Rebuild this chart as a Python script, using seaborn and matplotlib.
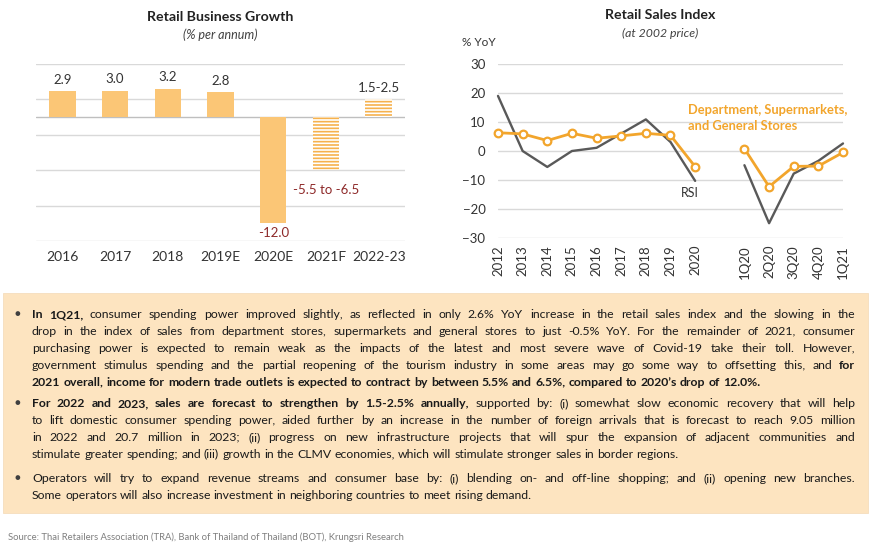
import numpy as np
import pandas as pd
import matplotlib
matplotlib.use("Agg")
import matplotlib.pyplot as plt
from matplotlib.patches import Rectangle
import seaborn as sns

# ---- data ----
BAR_CATS = ["2016", "2017", "2018", "2019E", "2020E", "2021F", "2022-23"]
BAR_VALS = [2.9, 3.0, 3.2, 2.8, -12.0, -6.0, 2.0]
BAR_LABELS = ["2.9", "3.0", "3.2", "2.8", "-12.0", "-5.5 to -6.5", "1.5-2.5"]
BAR_HATCHED = [False, False, False, False, False, True, True]

RSI_CATS = ["2012", "2013", "2014", "2015", "2016", "2017", "2018", "2019", "2020",
            "", "1Q20", "2Q20", "3Q20", "4Q20", "1Q21"]
RSI_VALS = [19.0, 0.0, -5.5, 0.0, 1.1, 6.0, 10.9, 3.1, -10.3,
            np.nan, -4.9, -24.9, -7.8, -3.4, 2.6]
DEPT_VALS = [6.3, 5.9, 3.6, 6.1, 4.4, 5.2, 6.1, 5.4, -5.4,
             np.nan, 0.8, -12.3, -5.3, -5.2, -0.5]
RSI_SEGMENT = [0] * 9 + [9] + [1] * 5

PARAGRAPHS = [
    [
        [("In 1Q21,", True), ("consumer spending power improved slightly, as reflected in only 2.6% YoY increase in the retail sales index and the slowing in the", False)],
        [("drop in the index of sales from department stores, supermarkets and general stores to just -0.5% YoY. For the remainder of 2021, consumer", False)],
        [("purchasing power is expected to remain weak as the impacts of the latest and most severe wave of Covid-19 take their toll. However,", False)],
        [("government stimulus spending and the partial reopening of the tourism industry in some areas may go some way to offsetting this, and", False), ("for", True)],
        [("2021 overall, income for modern trade outlets is expected to contract by between 5.5% and 6.5%, compared to 2020\u2019s drop of 12.0%.", True)],
    ],
    [
        [("For 2022 and 2023, sales are forecast to strengthen by 1.5-2.5% annually,", True), ("supported by: (i) somewhat slow economic recovery that will help", False)],
        [("to lift domestic consumer spending power, aided further by an increase in the number of foreign arrivals that is forecast to reach 9.05 million", False)],
        [("in 2022 and 20.7 million in 2023; (ii) progress on new infrastructure projects that will spur the expansion of adjacent communities and", False)],
        [("stimulate greater spending; and (iii) growth in the CLMV economies, which will stimulate stronger sales in border regions.", False)],
    ],
    [
        [("Operators will try to expand revenue streams and consumer base by: (i) blending on- and off-line shopping; and (ii) opening new branches.", False)],
        [("Some operators will also increase investment in neighboring countries to meet rising demand.", False)],
    ],
]
SOURCE = "Source: Thai Retailers Association (TRA), Bank of Thailand of Thailand (BOT), Krungsri Research"

# ---- style ----
BAR_COLOR = "#FBC676"
HATCH_COLOR = "#F6B24E"
ORANGE = "#F2A52C"
GRAY_LINE = "#595959"
GRID = "#D9D9D9"
DARK = "#333333"
RED = "#8E2A2A"
BOX = "#FDE4C0"

sns.set_style("white")
plt.rcParams["font.family"] = ["Lato", "DejaVu Sans"]
plt.rcParams["hatch.linewidth"] = 1.2

W, H = 870, 549
fig = plt.figure(figsize=(W / 100, H / 100), dpi=100)


def fx(px):
    return px / W


def fy(py):
    return 1 - py / H


# =========================
# LEFT: Retail Business Growth
# =========================
ax1 = fig.add_axes([fx(36), fy(241), fx(405 - 36), (241 - 64) / H])
bars = pd.DataFrame({"cat": BAR_CATS, "val": BAR_VALS})
sns.barplot(data=bars, x="cat", y="val", color=BAR_COLOR, saturation=1,
            width=0.5, ax=ax1)
for patch, hatched in zip(ax1.patches, BAR_HATCHED):
    patch.set_linewidth(0)
    if hatched:
        patch.set_facecolor("white")
        patch.set_edgecolor(HATCH_COLOR)
        patch.set_hatch("-----")

ax1.set_xlim(-0.5, 6.5)
ax1.set_ylim(-14, 6)
ax1.set_yticks([-14, -10, -6, -2, 2, 6])
ax1.yaxis.grid(True, color=GRID, lw=1)
ax1.axhline(0, color="#BFBFBF", lw=1, zorder=0.5)
ax1.set_axisbelow(True)
ax1.set_yticklabels([])
ax1.tick_params(axis="y", length=0)
ax1.tick_params(axis="x", length=0, pad=7, labelsize=10, labelcolor=DARK)
ax1.set_xlabel("")
ax1.set_ylabel("")
sns.despine(ax=ax1, left=True, bottom=True)

for i, (v, lab) in enumerate(zip(BAR_VALS, BAR_LABELS)):
    if v >= 0:
        ax1.annotate(lab, (i, v), xytext=(0, 4), textcoords="offset points",
                     ha="center", va="bottom", fontsize=9.5, color=DARK)
    else:
        off = -3 if not BAR_HATCHED[i] else -10
        ax1.annotate(lab, (i, v), xytext=(0, off), textcoords="offset points",
                     ha="center", va="top", fontsize=9.5, color=RED)

fig.text(fx(220), fy(17), "Retail Business Growth", ha="center", va="center",
         fontsize=10.2, fontweight="bold", color="#222222")
fig.text(fx(220), fy(35), "(% per annum)", ha="center", va="center",
         fontsize=9, fontstyle="italic", color="#404040")

# =========================
# RIGHT: Retail Sales Index
# =========================
ax2 = fig.add_axes([fx(498), fy(238), fx(843 - 498), (238 - 64) / H])
rsi = pd.DataFrame({"pos": range(len(RSI_CATS)), "rsi": RSI_VALS,
                    "dept": DEPT_VALS, "seg": RSI_SEGMENT})
rsi = rsi.dropna()
sns.lineplot(data=rsi, x="pos", y="rsi", units="seg", estimator=None,
             color=GRAY_LINE, lw=1.7, ax=ax2, clip_on=False, zorder=3)
sns.lineplot(data=rsi, x="pos", y="dept", units="seg", estimator=None,
             color=ORANGE, lw=2.0, marker="o", markersize=5.5,
             markerfacecolor="white", markeredgecolor=ORANGE, markeredgewidth=1.6,
             ax=ax2, clip_on=False, zorder=4)

ax2.set_xlim(0, len(RSI_CATS) - 1)
ax2.set_ylim(-30, 30)
ax2.set_yticks(range(-30, 31, 10))
ax2.set_xticks(range(len(RSI_CATS)))
ax2.set_xticklabels(RSI_CATS, rotation=90)
ax2.yaxis.grid(True, color=GRID, lw=1)
ax2.set_axisbelow(True)
ax2.tick_params(axis="x", length=0, pad=5, labelsize=9.5, labelcolor=DARK)
ax2.tick_params(axis="y", length=0, pad=9, labelsize=9.5, labelcolor=DARK)
ax2.set_xlabel("")
ax2.set_ylabel("")
sns.despine(ax=ax2, left=True, bottom=True)

ax2.text(7.8, -14.5, "RSI", ha="center", va="center", fontsize=9, color=DARK)
ax2.text(7.72, 11.3, "Department, Supermarkets,\nand General Stores", ha="left",
         va="center", fontsize=9.3, fontweight="bold", color=ORANGE, linespacing=1.35)

fig.text(fx(479), fy(43), "% YoY", ha="center", va="center", fontsize=8.5, color=DARK)
fig.text(fx(660), fy(15), "Retail Sales Index", ha="center", va="center",
         fontsize=10.2, fontweight="bold", color="#222222")
fig.text(fx(660), fy(33), "(at 2002 price)", ha="center", va="center",
         fontsize=8.8, fontstyle="italic", color="#404040")

# =========================
# TEXT BOX (justified paragraphs)
# =========================
fig.add_artist(Rectangle((fx(3), fy(513)), fx(865), (513 - 293) / H,
                         transform=fig.transFigure, facecolor=BOX,
                         edgecolor="#F5DDBD", lw=0.6, zorder=0))

renderer = fig.canvas.get_renderer()
X0, X1 = 32, 855


def line_words(line):
    out = []
    for seg, bold in line:
        for w in seg.split():
            out.append((w, bold))
    return out


def measure(s, size, bold):
    t = fig.text(0, 0, s, fontsize=size, fontweight="bold" if bold else "normal")
    wd = t.get_window_extent(renderer).width
    t.remove()
    return wd


def natural_width(line, size):
    words = line_words(line)
    sp = measure("x x", size, False) - measure("xx", size, False)
    return sum(measure(w, size, b) for w, b in words) + sp * (len(words) - 1)


size = 8.8
widest = max(natural_width(ln, size) for para in PARAGRAPHS for ln in para[:-1])
size = min(size, size * (X1 - X0) / widest * 0.99)
space = measure("x x", size, False) - measure("xx", size, False)

first_baselines = [318, 407, 482]
LEADING = 16.9
for para, y0 in zip(PARAGRAPHS, first_baselines):
    fig.text(fx(17), fy(y0 - 3.5), "\u25cf", ha="center", va="center",
             fontsize=7, color="#404040")
    for k, line in enumerate(para):
        y = y0 + k * LEADING
        words = line_words(line)
        arts = [fig.text(0, fy(y), w, fontsize=size, color="#1a1a1a",
                         fontweight="bold" if b else "normal", va="baseline", ha="left")
                for w, b in words]
        widths = [a.get_window_extent(renderer).width for a in arts]
        last = k == len(para) - 1
        gap = space if last or len(words) < 2 else (X1 - X0 - sum(widths)) / (len(words) - 1)
        x = X0
        for a, wd in zip(arts, widths):
            a.set_x(fx(x))
            x += wd + gap

fig.text(fx(8), fy(537), SOURCE, ha="left", va="center", fontsize=6.8, color="#7F7F7F")

fig.savefig("out.png", dpi=100, facecolor="white")
